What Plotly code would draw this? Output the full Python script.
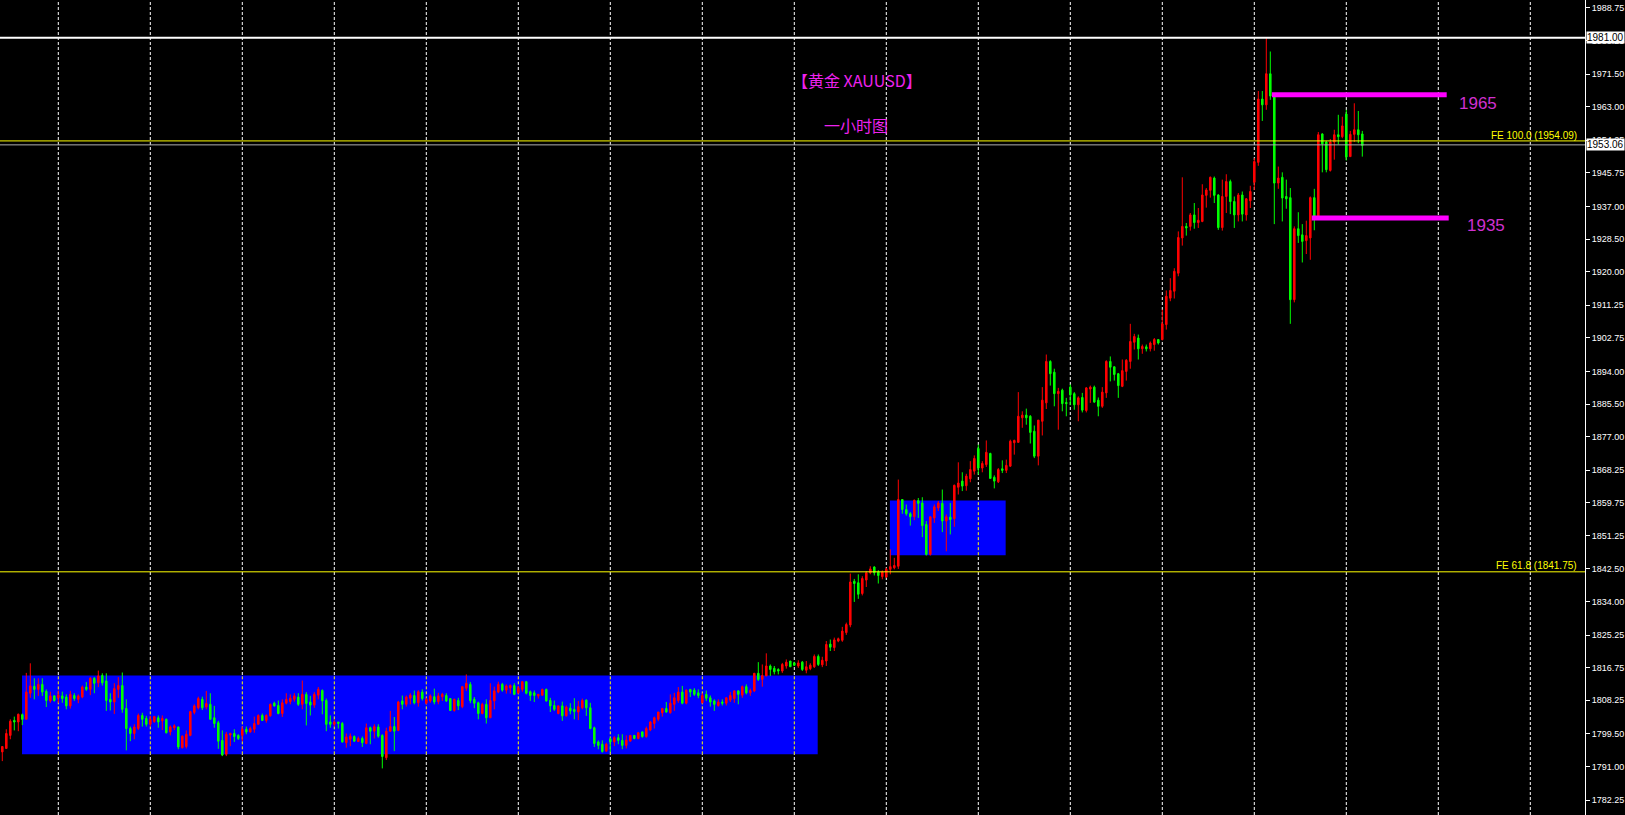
import plotly.graph_objects as go

# ---- OHLC data (hourly bars) ----
opens = [
1794.8,1795.7,1799.1,1803.0,1802.6,1804.5,1803.3,1810.1,1811.9,1811.1,1812.4,1810.6,1808.1,1809.4,1808.9,1809.4,1809.1,1806.8,1809.5,1808.5,
1809.1,1811.7,1811.1,1814.0,1812.8,1814.7,1813.3,1808.5,1807.8,1811.1,1812.1,1806.1,1800.9,1799.6,1800.9,1804.3,1803.5,1802.0,1802.7,1803.7,
1802.9,1803.3,1800.0,1801.1,1801.3,1795.9,1796.2,1799.1,1805.1,1806.3,1808.5,1806.5,1807.2,1803.7,1802.4,1797.8,1794.2,1799.2,1799.6,1799.1,
1799.1,1800.7,1800.0,1800.7,1802.0,1804.3,1803.0,1804.2,1807.5,1806.9,1804.8,1807.5,1807.9,1808.5,1809.1,1807.2,1809.8,1807.8,1807.0,1809.6,
1810.8,1808.2,1802.6,1802.0,1802.6,1802.2,1797.2,1798.1,1798.8,1797.5,1798.3,1797.0,1801.1,1800.2,1801.3,1799.1,1793.3,1800.2,1801.4,1800.4,
1808.1,1807.2,1808.8,1809.5,1807.6,1810.4,1807.5,1808.1,1809.2,1807.9,1809.2,1809.5,1808.7,1805.6,1808.2,1806.6,1811.4,1812.4,1808.5,1807.6,
1804.8,1807.2,1803.7,1808.1,1810.4,1812.4,1810.9,1811.5,1812.1,1810.2,1811.1,1813.1,1810.5,1810.2,1809.4,1809.6,1811.1,1808.2,1806.9,1804.8,
1806.8,1804.2,1806.2,1805.9,1805.2,1806.3,1808.3,1806.3,1801.1,1797.4,1796.8,1795.0,1798.2,1797.4,1798.5,1797.8,1796.5,1797.6,1799.1,1798.3,
1800.0,1798.8,1800.5,1802.2,1803.3,1805.0,1806.1,1805.0,1807.2,1808.2,1810.4,1807.5,1811.1,1810.9,1810.2,1807.6,1809.8,1808.9,1808.1,1806.9,
1807.8,1807.5,1808.3,1808.7,1810.7,1809.6,1811.8,1810.2,1810.7,1815.3,1813.7,1814.6,1817.2,1816.6,1816.3,1815.9,1817.2,1818.5,1818.0,1817.2,
1818.2,1816.1,1816.5,1817.0,1819.7,1817.5,1818.5,1822.9,1822.0,1823.7,1823.9,1825.9,1827.9,1839.3,1838.9,1836.1,1839.6,1841.5,1843.0,1841.7,
1840.5,1840.4,1842.4,1842.8,1843.2,1860.6,1858.0,1856.9,1856.1,1860.3,1859.7,1854.1,1846.3,1855.8,1858.4,1859.6,1855.0,1856.0,1855.6,1863.8,
1865.4,1864.2,1866.0,1868.0,1873.9,1868.8,1869.7,1872.6,1866.4,1865.2,1868.6,1868.2,1869.3,1875.4,1875.5,1881.9,1882.6,1882.3,1878.4,1871.9,
1881.0,1885.8,1896.6,1893.8,1888.2,1889.1,1885.9,1889.9,1888.2,1885.3,1887.2,1883.8,1889.4,1889.9,1886.5,1884.9,1888.4,1896.6,1895.2,1893.4,
1890.1,1894.0,1896.6,1901.6,1902.7,1899.9,1900.4,1899.9,1901.0,1902.3,1902.3,1906.2,1913.1,1914.9,1919.6,1928.8,1931.8,1931.8,1934.8,1932.8,
1933.1,1939.9,1941.2,1944.4,1940.0,1931.5,1939.6,1943.5,1938.3,1934.8,1940.0,1934.8,1938.5,1943.3,1948.5,1965.0,1963.5,1971.6,1965.7,1943.1,
1944.6,1939.6,1939.3,1912.7,1931.2,1929.6,1928.1,1928.8,1939.3,1934.4,1955.9,1953.8,1946.4,1953.8,1955.7,1955.2,1961.1,1950.0,1955.8,1957.0,
1955.9]
highs = [
1796.2,1800.7,1803.3,1804.0,1804.8,1804.8,1815.4,1817.9,1814.0,1814.0,1814.0,1811.1,1810.5,1809.6,1810.8,1810.5,1809.8,1810.7,1810.1,1809.8,
1812.1,1813.0,1814.3,1814.3,1816.0,1815.3,1815.3,1810.1,1812.7,1814.3,1815.5,1808.5,1801.4,1802.0,1804.8,1805.0,1804.2,1804.2,1804.2,1804.3,
1804.3,1803.5,1801.7,1802.0,1801.4,1799.1,1800.4,1805.5,1807.2,1809.2,1809.2,1810.7,1810.1,1806.8,1802.9,1800.4,1800.0,1799.8,1800.7,1799.4,
1801.4,1801.4,1801.4,1804.0,1804.6,1804.8,1804.6,1807.4,1807.9,1808.2,1808.5,1810.1,1809.8,1810.1,1810.1,1813.4,1810.4,1809.4,1810.4,1811.7,
1811.1,1808.7,1804.3,1803.3,1802.6,1802.6,1799.6,1799.6,1799.1,1798.8,1798.8,1802.2,1801.4,1802.0,1802.0,1799.4,1801.1,1805.5,1803.9,1808.1,
1809.5,1809.5,1810.1,1810.8,1810.9,1811.1,1808.9,1809.8,1811.3,1810.2,1810.2,1810.1,1808.7,1808.7,1808.9,1812.0,1815.0,1813.0,1809.1,1807.9,
1807.6,1808.5,1812.7,1811.8,1813.1,1812.8,1812.4,1812.4,1812.7,1812.0,1813.3,1813.3,1810.8,1810.8,1809.8,1811.3,1811.3,1808.9,1808.2,1806.9,
1807.9,1806.9,1807.5,1808.8,1808.1,1808.7,1808.5,1807.6,1801.4,1797.8,1797.8,1797.2,1798.5,1798.9,1799.4,1799.4,1799.1,1799.1,1799.1,1800.0,
1800.2,1801.4,1802.8,1804.0,1805.2,1806.3,1807.8,1809.8,1810.2,1811.7,1812.0,1811.1,1811.1,1811.4,1811.1,1810.1,1810.8,1809.5,1808.5,1808.5,
1808.5,1809.1,1810.4,1810.9,1810.9,1812.1,1812.4,1811.3,1815.3,1818.2,1817.6,1820.5,1817.6,1817.2,1816.6,1818.0,1818.9,1818.5,1818.3,1818.7,
1818.5,1818.5,1817.9,1820.2,1820.2,1819.6,1823.7,1824.1,1824.6,1824.6,1827.4,1828.5,1841.3,1839.9,1841.1,1840.6,1841.9,1843.2,1843.2,1842.2,
1842.1,1842.8,1847.6,1845.4,1865.8,1860.6,1859.3,1857.3,1860.6,1861.0,1861.2,1855.0,1856.1,1859.3,1860.2,1863.2,1856.7,1859.7,1864.5,1870.3,
1867.7,1867.3,1870.6,1872.1,1874.9,1870.6,1876.0,1872.8,1866.9,1868.8,1870.8,1871.0,1876.2,1876.2,1888.6,1883.6,1884.3,1882.6,1879.9,1881.3,
1889.9,1898.4,1896.9,1894.7,1889.7,1889.5,1887.1,1890.6,1888.6,1887.5,1888.4,1889.9,1890.3,1890.3,1887.2,1889.9,1896.9,1897.9,1895.3,1893.6,
1897.1,1897.2,1906.4,1903.8,1903.6,1901.0,1901.0,1901.8,1902.7,1902.4,1910.1,1915.1,1918.3,1920.9,1930.5,1944.6,1932.7,1935.3,1937.9,1936.6,
1942.8,1941.8,1944.8,1944.8,1940.2,1944.0,1945.4,1944.0,1939.6,1940.5,1940.9,1939.2,1942.4,1949.6,1967.1,1967.1,1980.9,1977.4,1966.1,1947.4,
1945.9,1944.0,1941.8,1931.8,1935.5,1932.4,1933.3,1939.6,1941.6,1956.4,1956.1,1954.1,1954.6,1957.0,1960.9,1960.4,1962.2,1956.7,1963.9,1961.9,
1956.7]
lows = [
1792.4,1795.7,1798.1,1800.4,1800.2,1801.8,1803.3,1808.9,1808.5,1809.4,1809.4,1806.5,1807.6,1807.9,1807.6,1807.6,1805.9,1806.1,1808.1,1807.5,
1808.8,1810.7,1809.6,1810.1,1811.7,1812.1,1805.5,1805.6,1804.7,1808.9,1805.0,1795.2,1797.6,1798.1,1800.5,1801.4,1801.4,1801.4,1802.4,1801.1,
1800.5,1799.6,1799.1,1800.5,1795.5,1795.7,1795.7,1798.9,1804.6,1805.9,1805.7,1805.9,1803.3,1801.1,1795.6,1793.7,1793.7,1796.3,1797.4,1797.9,
1797.6,1799.4,1799.8,1799.8,1802.0,1802.9,1802.4,1804.0,1806.6,1804.6,1803.9,1807.2,1807.2,1807.9,1806.8,1805.9,1801.7,1804.3,1806.3,1808.5,
1804.6,1800.2,1801.1,1801.4,1800.9,1797.2,1795.9,1796.3,1797.4,1797.4,1796.1,1796.8,1796.8,1798.3,1798.5,1790.5,1792.7,1800.0,1795.0,1800.2,
1805.9,1806.6,1807.2,1807.2,1806.6,1808.2,1807.2,1807.6,1807.2,1807.2,1808.1,1807.8,1805.6,1805.3,1805.7,1806.2,1810.7,1807.5,1806.2,1803.3,
1804.6,1802.2,1803.7,1805.9,1810.1,1810.5,1810.0,1810.0,1809.6,1810.0,1810.5,1809.8,1808.1,1807.8,1808.7,1809.4,1807.9,1805.2,1805.5,1804.6,
1802.9,1804.0,1804.6,1803.3,1803.1,1805.9,1804.2,1800.7,1796.1,1795.5,1794.6,1794.9,1794.8,1796.3,1796.8,1795.5,1795.7,1797.6,1798.1,1798.1,
1798.5,1798.5,1800.2,1800.9,1802.8,1804.0,1805.0,1804.8,1805.5,1807.6,1807.2,1807.2,1809.1,1809.4,1808.8,1807.5,1808.1,1806.6,1805.5,1806.6,
1806.9,1806.9,1807.8,1807.6,1807.2,1808.9,1809.8,1809.4,1810.4,1813.3,1811.8,1814.6,1814.6,1815.0,1815.0,1815.4,1816.5,1817.0,1817.2,1816.7,
1815.9,1815.3,1816.1,1816.7,1817.2,1816.9,1817.2,1821.1,1821.1,1823.4,1823.5,1825.3,1827.3,1833.9,1834.7,1835.6,1837.8,1841.1,1840.8,1838.7,
1839.8,1840.2,1841.1,1842.4,1842.5,1856.9,1856.4,1853.8,1855.2,1855.8,1850.8,1846.0,1846.0,1854.5,1857.6,1852.1,1847.1,1851.5,1853.5,1861.9,
1862.8,1862.9,1865.1,1867.1,1867.1,1867.7,1869.1,1866.1,1863.5,1864.9,1867.5,1867.5,1869.1,1872.3,1875.4,1879.3,1880.1,1875.2,1871.4,1869.5,
1877.3,1884.2,1890.3,1884.9,1878.8,1883.6,1882.3,1885.2,1884.0,1881.0,1883.3,1883.3,1885.8,1885.8,1882.3,1884.5,1887.1,1891.4,1891.6,1887.1,
1889.9,1891.6,1894.7,1899.7,1897.1,1898.6,1899.2,1899.2,1899.4,1901.0,1902.1,1904.9,1912.3,1913.0,1918.8,1926.8,1929.4,1930.7,1931.2,1931.4,
1932.9,1936.7,1939.3,1937.9,1930.9,1930.7,1935.3,1935.0,1931.4,1933.1,1933.1,1933.3,1936.6,1941.3,1947.6,1959.3,1962.2,1964.8,1932.4,1941.6,
1933.1,1936.4,1906.4,1912.0,1927.5,1922.4,1924.6,1923.1,1930.8,1934.4,1945.9,1945.9,1946.1,1949.2,1953.2,1954.8,1949.0,1950.0,1953.8,1953.5,
1950.0]
closes = [
1796.2,1799.6,1802.8,1802.6,1804.6,1803.3,1810.4,1812.0,1811.1,1812.4,1810.4,1808.2,1809.4,1808.2,1809.6,1808.7,1806.8,1809.8,1808.7,1809.4,
1811.7,1811.1,1814.0,1812.7,1814.6,1812.8,1808.2,1807.8,1811.3,1812.1,1805.9,1800.9,1799.6,1801.3,1804.3,1803.3,1802.0,1803.3,1804.0,1802.6,
1803.5,1799.8,1801.3,1801.6,1796.1,1798.9,1799.4,1805.3,1806.8,1808.7,1806.3,1807.4,1803.3,1802.2,1797.6,1794.0,1799.4,1799.6,1798.8,1798.3,
1800.7,1800.0,1800.9,1802.2,1804.3,1803.0,1804.3,1807.2,1806.8,1804.8,1807.6,1808.5,1808.8,1809.4,1807.2,1809.8,1807.4,1807.0,1809.8,1811.1,
1808.1,1802.0,1802.0,1802.6,1802.2,1797.4,1798.7,1798.9,1797.6,1798.3,1797.2,1801.1,1800.2,1801.4,1798.9,1793.6,1800.2,1801.4,1800.2,1807.8,
1807.2,1809.1,1809.6,1807.6,1810.5,1808.7,1808.5,1809.4,1807.8,1809.4,1809.8,1808.1,1805.6,1808.5,1806.8,1811.8,1812.7,1808.2,1807.5,1804.8,
1807.2,1803.7,1808.2,1810.7,1812.4,1810.9,1812.0,1812.1,1809.8,1811.5,1813.1,1810.1,1809.5,1809.5,1809.8,1811.1,1808.1,1806.8,1805.9,1806.8,
1804.2,1806.5,1805.5,1805.3,1806.6,1808.2,1806.3,1800.9,1797.0,1796.5,1794.9,1796.8,1797.4,1798.5,1797.8,1796.5,1797.9,1799.1,1798.3,1799.8,
1798.8,1800.9,1802.6,1803.7,1805.2,1806.1,1805.2,1807.5,1808.9,1810.4,1807.5,1810.9,1810.4,1809.8,1809.5,1809.5,1808.8,1807.8,1807.2,1807.8,
1807.5,1808.9,1809.5,1810.7,1809.8,1811.8,1810.2,1810.8,1815.3,1813.7,1814.7,1817.2,1816.3,1815.7,1815.9,1817.6,1818.2,1817.0,1817.4,1818.0,
1816.3,1817.0,1817.4,1819.7,1817.6,1818.7,1822.8,1822.1,1824.0,1824.3,1826.3,1828.0,1839.1,1838.7,1835.9,1840.0,1841.5,1842.5,1841.5,1840.8,
1841.7,1842.4,1843.1,1843.4,1860.6,1858.0,1856.9,1856.1,1860.4,1859.6,1853.8,1846.3,1856.1,1858.7,1859.7,1855.0,1856.1,1855.4,1864.3,1864.9,
1864.1,1866.7,1868.4,1871.3,1868.8,1870.0,1872.9,1866.1,1865.4,1868.4,1868.2,1869.5,1875.8,1876.0,1882.3,1882.6,1881.9,1878.1,1871.9,1881.3,
1886.5,1896.6,1893.4,1888.2,1888.8,1885.6,1885.6,1887.9,1885.3,1887.1,1883.9,1889.7,1889.9,1886.0,1884.9,1888.6,1896.6,1895.1,1893.2,1890.3,
1894.2,1896.9,1901.8,1903.1,1899.9,1900.5,1899.9,1901.4,1902.3,1901.4,1906.4,1913.6,1915.1,1920.1,1928.9,1931.8,1931.4,1934.8,1932.8,1933.4,
1940.0,1941.3,1944.6,1939.9,1931.5,1939.6,1943.5,1938.3,1934.8,1940.0,1935.0,1939.0,1940.9,1948.7,1965.0,1963.5,1971.6,1965.8,1943.1,1944.4,
1939.2,1939.0,1912.7,1931.2,1929.4,1927.9,1929.4,1939.3,1934.4,1955.7,1953.3,1946.6,1953.8,1955.7,1955.2,1958.0,1949.9,1955.8,1957.0,1955.7,
1952.9]

# ---- price axis labels ----
tick_labels = ["1782.25","1791.00","1799.50","1808.25","1816.75","1825.25","1834.00","1842.50",
               "1851.25","1859.75","1868.25","1877.00","1885.50","1894.00","1902.75","1911.25",
               "1920.00","1928.50","1937.00","1945.75","1954.25","1963.00","1971.50","1980.25","1988.75"]

# ---- levels / objects ----
high_line = 1981.00
bid_price = 1953.06
fe_levels = [(100.0, 1954.09), (61.8, 1841.75)]
target_levels = [("1965", 1966.1, 317.4, 361.1), ("1935", 1934.0, 327.35, 361.6)]
boxes = [(4.93, 203.85, 1794.16, 1814.74), (221.9, 250.84, 1846.09, 1860.33)]
day_starts = list(range(14, 396, 23))

x = list(range(len(opens)))

fig = go.Figure()
fig.add_trace(go.Candlestick(
    x=x, open=opens, high=highs, low=lows, close=closes,
    increasing=dict(line=dict(color="#FF0000", width=1), fillcolor="#FF0000"),
    decreasing=dict(line=dict(color="#00FF00", width=1), fillcolor="#00FF00"),
    whiskerwidth=0, hoverinfo="skip", showlegend=False))

shapes = []
for d in day_starts:
    shapes.append(dict(type="line", xref="x", yref="paper", x0=d, x1=d, y0=0, y1=1,
                       line=dict(color="white", width=1, dash="3px,2px"), layer="below"))
for (x0, x1, y0, y1) in boxes:
    shapes.append(dict(type="rect", xref="x", yref="y", x0=x0, x1=x1, y0=y0, y1=y1,
                       fillcolor="#0000FF", line=dict(width=0), layer="below"))
for (x0, x1, y0, y1) in boxes:
    for d in day_starts:
        if x0 < d < x1:
            shapes.append(dict(type="line", xref="x", yref="y", x0=d, x1=d, y0=y0, y1=y1,
                               line=dict(color="#FFFF00", width=1, dash="3px,2px"), layer="below"))
shapes.append(dict(type="line", xref="paper", yref="y", x0=0, x1=1, y0=high_line, y1=high_line,
                   line=dict(color="white", width=2)))
for lvl, price in fe_levels:
    shapes.append(dict(type="line", xref="paper", yref="y", x0=0, x1=1, y0=price, y1=price,
                       line=dict(color="#FFFF00", width=1)))
shapes.append(dict(type="line", xref="paper", yref="y", x0=0, x1=1, y0=bid_price, y1=bid_price,
                   line=dict(color="#B0B0B0", width=1)))
for name, price, x0, x1 in target_levels:
    shapes.append(dict(type="line", xref="x", yref="y", x0=x0, x1=x1, y0=price, y1=price,
                       line=dict(color="#FF00FF", width=5)))

annotations = []
annotations.append(dict(x=213.55, y=1969.9, xref="x", yref="y", text="【黄金 XAUUSD】", showarrow=False,
                        font=dict(family="Noto Sans CJK SC", size=16, color="#EE22EE")))
annotations.append(dict(x=213.3, y=1958.3, xref="x", yref="y", text="一小时图", showarrow=False,
                        font=dict(family="Noto Sans CJK SC", size=16, color="#EE22EE")))
label_pos = {"1965": (368.9, 1963.9), "1935": (370.9, 1932.0)}
for name, price, x0, x1 in target_levels:
    lx, ly = label_pos[name]
    annotations.append(dict(x=lx, y=ly, xref="x", yref="y", text=name, showarrow=False,
                            font=dict(family="Liberation Sans, Arial", size=17, color="#D030D0")))
fe_label_y = {100.0: 1955.5, 61.8: 1843.4}
for lvl, price in fe_levels:
    annotations.append(dict(x=394.2, y=fe_label_y[lvl], xref="x", yref="y", xanchor="right",
                            text=f"FE {lvl:.1f} ({price:.2f})", showarrow=False,
                            font=dict(family="Liberation Sans, Arial", size=10, color="#FFFF00")))
for price in (high_line, bid_price):
    annotations.append(dict(x=1, y=price, xref="paper", yref="y", xanchor="left", xshift=1,
                            text=f"{price:.2f}", showarrow=False, bgcolor="white", borderpad=0,
                            font=dict(family="Liberation Sans, Arial", size=10, color="black")))

fig.update_layout(
    width=1625, height=815,
    margin=dict(l=0, r=40, t=0, b=0),
    paper_bgcolor="black", plot_bgcolor="black",
    showlegend=False, boxgap=0.45,
    shapes=shapes, annotations=annotations,
    xaxis=dict(range=[-0.575, 395.675], visible=False, rangeslider=dict(visible=False),
               showgrid=False, zeroline=False),
    yaxis=dict(side="right", range=[1778.35, 1990.83], showgrid=False, zeroline=False,
               tickvals=[float(t) for t in tick_labels], ticktext=tick_labels,
               showline=True, linecolor="white", linewidth=1,
               ticks="outside", ticklen=4, tickcolor="white",
               tickfont=dict(family="Liberation Sans, Arial", size=9, color="white")),
)

fig.write_html("out.html", config={"displayModeBar": False})

# remove the browser's default page margin so the chart fills the window
with open("out.html", encoding="utf-8") as f:
    html = f.read()
html = html.replace("<head>", "<head><style>html,body{margin:0;padding:0;background:#000;overflow:hidden}</style>", 1)
with open("out.html", "w", encoding="utf-8") as f:
    f.write(html)
